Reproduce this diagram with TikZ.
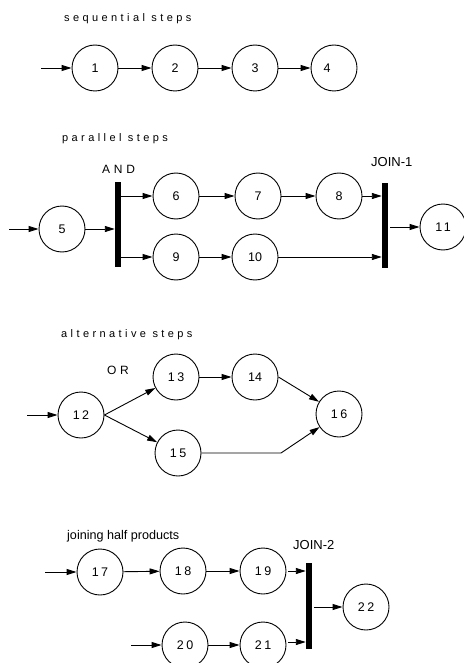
\documentclass[tikz,border=0pt]{standalone}
\usepackage{fontspec}
\setmainfont{Liberation Sans}
\newfontfamily\spacedfont[LetterSpace=31]{Liberation Sans}
\newfontfamily\numspfont[LetterSpace=20]{Liberation Sans}
\usetikzlibrary{arrows.meta}
\tikzset{
  stepnode/.style={circle, draw=black, line width=0.9pt, minimum size=46pt, inner sep=0pt,
    font=\fontsize{12.5}{14}\selectfont},
  spnum/.style={stepnode, font=\numspfont\fontsize{12.5}{14}\selectfont},
  barnode/.style={rectangle, fill=black, draw=none, minimum width=6pt, inner sep=0pt},
  flow/.style={line width=0.9pt, -{Triangle[length=10pt,width=6pt]}},
  header/.style={anchor=base west, inner sep=0pt, font=\spacedfont\fontsize{11}{13}\selectfont},
  gatelabel/.style={anchor=base west, inner sep=0pt, font=\spacedfont\fontsize{12}{14}\selectfont},
  joinlabel/.style={anchor=base west, inner sep=0pt, font=\fontsize{13}{15}\selectfont},
}
\begin{document}
\begin{tikzpicture}[x=1pt,y=-1pt]
\useasboundingbox (0,0) rectangle (463,663);
% sequential
\node[header] (h1) at (64,22) {sequential steps};
\coordinate (s1) at (41,68);
\node[stepnode] (n1) at (95,68) {1};
\node[stepnode] (n2) at (175,68) {2};
\node[stepnode] (n3) at (255,68) {3};
\node[stepnode] (n4) at (334,68) {\hspace*{-14pt}4};
\draw[flow] (s1) -- (n1);
\draw[flow] (n1) -- (n2);
\draw[flow] (n2) -- (n3);
\draw[flow] (n3) -- (n4);
% parallel
\node[header] (h2) at (62,142) {parallel steps};
\node[gatelabel] (andl) at (102,173) {AND};
\node[joinlabel] (j1l) at (371,167) {JOIN-1};
\coordinate (s2) at (9,229);
\node[stepnode] (n5) at (62,229) {5};
\node[barnode, minimum height=85pt] (and) at (118,224.5) {};
\node[stepnode] (n6) at (176,196) {6};
\node[stepnode] (n7) at (258,196) {7};
\node[stepnode] (n8) at (339,196) {8};
\node[stepnode] (n9) at (176,257) {9};
\node[stepnode] (n10) at (255,257) {10};
\node[barnode, minimum height=85pt] (join1) at (385,225.5) {};
\node[spnum] (n11) at (443,227) {11};
\draw[flow] (s2) -- (n5);
\draw[flow] (n5) -- (n5 -| and.west);
\draw[flow] (and.east |- n6) -- (n6);
\draw[flow] (and.east |- n9) -- (n9);
\draw[flow] (n6) -- (n7);
\draw[flow] (n7) -- (n8);
\draw[flow] (n9) -- (n10);
\draw[flow] (n8) -- (n8 -| join1.west);
\draw[flow] (n10) -- (n10 -| join1.west);
\draw[flow, shorten <=2pt] (join1.east |- n11) -- (n11);
% alternative
\node[header] (h3) at (61,337) {alternative steps};
\node[gatelabel] (orl) at (107,374) {OR};
\coordinate (s3) at (27,415);
\node[spnum] (n12) at (81,415) {12};
\node[spnum] (n13) at (176,377) {13};
\node[stepnode] (n14) at (255,377) {14};
\node[spnum] (n15) at (178,453) {15};
\node[spnum] (n16) at (339,414) {16};
\coordinate (bend) at (281,453);
\draw[flow] (s3) -- (n12);
\draw[flow] (n12.east) -- (n13);
\draw[flow] (n12.east) -- (n15);
\draw[flow] (n13) -- (n14);
\draw[flow] (n14.east) -- (n16);
\draw[flow] (n15) -- (bend) -- (n16);
% joining
\node[anchor=base west, inner sep=0pt, font=\fontsize{12.6}{14}\selectfont] (h4) at (67,539) {joining half products};
\node[joinlabel] (j2l) at (293,549) {JOIN-2};
\coordinate (s4) at (45,572);
\coordinate (s5) at (131,645);
\node[spnum] (n17) at (100,572) {17};
\node[spnum] (n18) at (183,571) {18};
\node[spnum] (n19) at (263,571) {19};
\node[spnum] (n20) at (185,645) {20};
\node[spnum] (n21) at (263,645) {21};
\node[barnode, minimum height=86pt] (join2) at (309,606) {};
\node[spnum] (n22) at (366,607) {22};
\draw[flow] (s4) -- (n17);
\draw[flow] (n17) -- (n18);
\draw[flow] (n18) -- (n19);
\draw[flow, shorten <=2pt] (n19) -- (n19 -| join2.west);
\draw[flow] (s5) -- (n20);
\draw[flow] (n20) -- (n21);
\draw[flow, shorten <=2pt] (n21.east |- 0,642) -- (join2.west |- 0,642);
\draw[flow, shorten <=2pt] (join2.east |- n22) -- (n22);
\end{tikzpicture}
\end{document}
